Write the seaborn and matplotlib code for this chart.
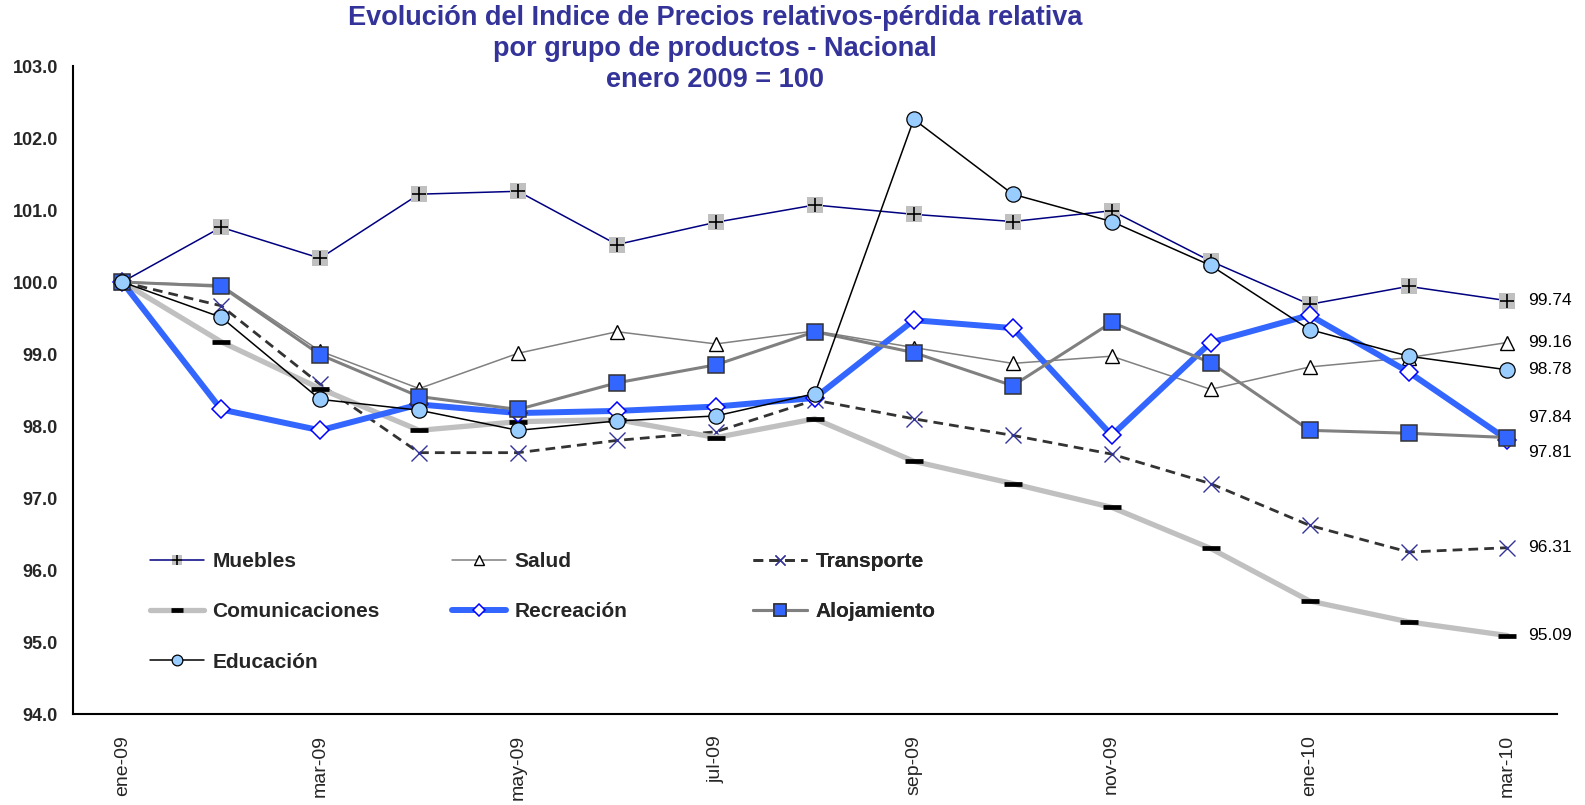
import numpy as np
import pandas as pd
import matplotlib
matplotlib.use('Agg')
import matplotlib.pyplot as plt
import seaborn as sns

# Data (enero 2009 = 100)
months = ['ene-09', 'feb-09', 'mar-09', 'abr-09', 'may-09', 'jun-09', 'jul-09', 'ago-09',
          'sep-09', 'oct-09', 'nov-09', 'dic-09', 'ene-10', 'feb-10', 'mar-10']
muebles = [100.0, 100.76, 100.33, 101.22, 101.26, 100.52, 100.83, 101.07, 100.94, 100.84,
           100.99, 100.29, 99.69, 99.94, 99.74]
salud = [100.0, 99.96, 99.04, 98.52, 99.01, 99.31, 99.14, 99.32, 99.09, 98.87,
         98.97, 98.51, 98.82, 98.95, 99.16]
transporte = [100.0, 99.67, 98.58, 97.63, 97.63, 97.80, 97.92, 98.36, 98.10, 97.87,
              97.61, 97.20, 96.62, 96.25, 96.31]
comunicaciones = [100.0, 99.17, 98.52, 97.94, 98.06, 98.09, 97.84, 98.10, 97.51, 97.20,
                  96.87, 96.30, 95.57, 95.28, 95.09]
recreacion = [100.0, 98.23, 97.94, 98.30, 98.18, 98.21, 98.27, 98.39, 99.47, 99.36,
              97.87, 99.16, 99.54, 98.75, 97.81]
alojamiento = [100.0, 99.94, 98.99, 98.41, 98.23, 98.60, 98.85, 99.31, 99.02, 98.56,
               99.44, 98.88, 97.94, 97.90, 97.84]
educacion = [100.0, 99.51, 98.37, 98.22, 97.94, 98.07, 98.14, 98.45, 102.26, 101.22,
             100.84, 100.23, 99.34, 98.97, 98.78]

sns.set_style('white')
plt.rcParams['font.family'] = ['Liberation Sans', 'DejaVu Sans']

x = np.arange(len(months))

fig = plt.figure(figsize=(15.85, 8.05), dpi=100)
ax = fig.add_axes([0.0459, 0.1130, 0.9823 - 0.0459, 0.918 - 0.1130])

# Muebles: navy line, grey square with black plus
sns.lineplot(x=x, y=muebles, ax=ax, color='#000080', linewidth=1.1, marker='s',
             markersize=11, markerfacecolor='#C0C0C0', markeredgecolor='#C0C0C0',
             markeredgewidth=0, label='Muebles', legend=False)
l_mueb = ax.get_lines()[-1]
sns.lineplot(x=x, y=muebles, ax=ax, linestyle='none', marker='+', markersize=10,
             color='black', markeredgecolor='black', markeredgewidth=1.2, legend=False)
l_mueb_plus = ax.get_lines()[-1]

# Salud
sns.lineplot(x=x, y=salud, ax=ax, color='#808080', linewidth=1.1, marker='^',
             markersize=10.5, markerfacecolor='white', markeredgecolor='black',
             markeredgewidth=1.0, legend=False)
l_salud = ax.get_lines()[-1]

# Transporte
sns.lineplot(x=x, y=transporte, ax=ax, color='#333333', linewidth=2.0,
             linestyle=(0, (3.5, 2.2)), marker='x', markersize=11,
             markeredgecolor='#333399', markeredgewidth=1.0, legend=False)
l_trans = ax.get_lines()[-1]

# Comunicaciones
sns.lineplot(x=x, y=comunicaciones, ax=ax, color='#C0C0C0', linewidth=3.8, marker='_',
             markersize=12.5, markeredgecolor='black', markeredgewidth=3.4, legend=False)
l_comu = ax.get_lines()[-1]

# Recreación
sns.lineplot(x=x, y=recreacion, ax=ax, color='#3366FF', linewidth=4.3, marker='D',
             markersize=9, markerfacecolor='white', markeredgecolor='#0000FF',
             markeredgewidth=1.1, legend=False)
l_recr = ax.get_lines()[-1]

# Alojamiento
sns.lineplot(x=x, y=alojamiento, ax=ax, color='#808080', linewidth=2.2, marker='s',
             markersize=11.5, markerfacecolor='#3366FF', markeredgecolor='#333333',
             markeredgewidth=1.1, legend=False)
l_aloj = ax.get_lines()[-1]

# Educación
sns.lineplot(x=x, y=educacion, ax=ax, color='black', linewidth=1.1, marker='o',
             markersize=11, markerfacecolor='#99CCFF', markeredgecolor='black',
             markeredgewidth=0.9, legend=False)
l_educ = ax.get_lines()[-1]

# End-of-series value labels (vertical nudge in pixels, up is positive)
end_labels = [(muebles, 0), (salud, 0), (educacion, 0), (alojamiento, 20),
              (recreacion, -13), (transporte, 0), (comunicaciones, 0)]
for series, dy in end_labels:
    ax.annotate(f'{series[-1]:.2f}', xy=(x[-1], series[-1]), xytext=(21, dy),
                textcoords='offset pixels', ha='left', va='center', fontsize=12.5,
                color='black', annotation_clip=False)

# Axes styling
ax.set_xlim(-0.5, 14.5)
ax.set_ylim(94, 103)
ax.set_yticks(np.arange(94, 103.5, 1))
ax.set_yticklabels([f'{v:.1f}' for v in np.arange(94, 103.5, 1)],
                   fontsize=13, fontweight='bold')
ax.set_xticks(x[::2])
ax.set_xticklabels(months[::2], rotation=90, fontsize=14)
ax.set_xticks(np.arange(-0.5, 14, 2), minor=True)
ax.tick_params(axis='x', which='major', length=0, pad=15)
ax.tick_params(axis='x', which='minor', length=3.6, width=1.1, direction='out',
               color='black')
ax.tick_params(axis='y', length=3.6, width=1.1, direction='out', color='black', pad=7)
for side in ['top', 'right']:
    ax.spines[side].set_visible(False)
for side in ['left', 'bottom']:
    ax.spines[side].set_color('black')
    ax.spines[side].set_linewidth(1.5)
ax.set_xlabel('')
ax.set_ylabel('')
ax.grid(False)

# Legend in three columns, placed like the original
leg_kw = dict(loc='upper left', bbox_transform=fig.transFigure, frameon=False,
              prop={'weight': 'bold', 'size': 15}, handlelength=2.6,
              handletextpad=0.4, labelspacing=1.5, borderpad=0, borderaxespad=0,
              numpoints=1, markerscale=0.7)
cols = [
    ([(l_mueb, l_mueb_plus), l_comu, l_educ], ['Muebles', 'Comunicaciones', 'Educación'], 150),
    ([l_salud, l_recr], ['Salud', 'Recreación'], 452),
    ([l_trans, l_aloj], ['Transporte', 'Alojamiento'], 753),
]
for handles, labels, xpx in cols:
    leg = ax.legend(handles, labels, bbox_to_anchor=(xpx / 1585, 1 - 552 / 805), **leg_kw)
    ax.add_artist(leg)

fig.text(0.451, 1 - 5 / 805,
         'Evolución del Indice de Precios relativos-pérdida relativa\n'
         'por grupo de productos - Nacional\n'
         'enero 2009 = 100',
         ha='center', va='top', fontsize=19.5, fontweight='bold', color='#333399',
         linespacing=1.25)

fig.savefig('out.png', dpi=100, facecolor='white')
